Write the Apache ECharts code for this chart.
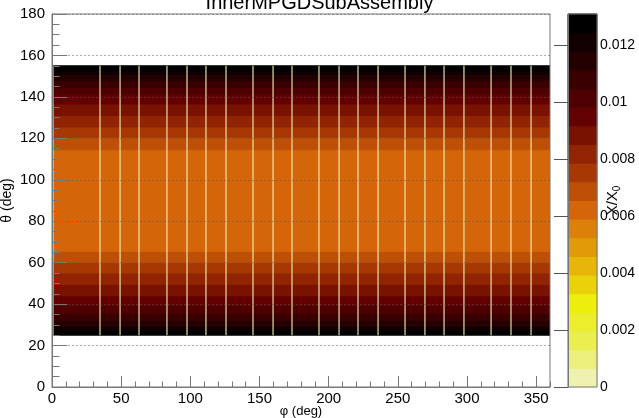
<!DOCTYPE html>
<html><head><meta charset="utf-8">
<script src="https://cdn.jsdelivr.net/npm/echarts@6/dist/echarts.min.js"></script>
<style>html,body{margin:0;padding:0;background:#fff}#c{width:639px;height:418px}</style>
</head><body><div id="c"></div>
<script>
// ---- data ----
const phiTicks   = [0, 50, 100, 150, 200, 250, 300, 350];
const thetaTicks = [0, 20, 40, 60, 80, 100, 120, 140, 160, 180];
const zTicks     = [0, 0.002, 0.004, 0.006, 0.008, 0.01, 0.012];
const zMax = 0.0131;
const nLevels = 20;
// theta bands (deg) and X/X0 value in each band
const thetaLow  = [25, 27.5, 29.5, 32, 35.5, 39.5, 44, 49.5, 55, 60, 65.5, 114.5, 120.5, 125.5, 131, 136.5, 141, 144.5, 148, 150.5, 152.5];
const thetaHigh = [27.5, 29.5, 32, 35.5, 39.5, 44, 49.5, 55, 60, 65.5, 114.5, 120.5, 125.5, 131, 136.5, 141, 144.5, 148, 150.5, 152.5, 155];
const bandValue = [0.0127, 0.0121, 0.0114, 0.0108, 0.0101, 0.0095, 0.0088, 0.0082, 0.0075, 0.0069, 0.0062, 0.0069, 0.0075, 0.0082, 0.0088, 0.0095, 0.0101, 0.0108, 0.0114, 0.0121, 0.0127];
// phi positions (deg) of thin low-material gaps
const gapPhi = [0.7, 34.7, 49.2, 62.9, 83.1, 97.6, 111.3, 125.8, 145.3, 159.8, 173.5, 193, 207.5, 221.2, 235.7, 255.2, 269.6, 283.4, 297.8, 317.4, 331.8, 346.3];
const gapValue = 0.0003;

// ---- palette (ROOT dark body radiator, inverted) ----
const stops = [0, 0.125, 0.25, 0.375, 0.5, 0.625, 0.75, 0.875, 1];
const R = [0, 45, 99, 156, 212, 230, 237, 234, 242];
const G = [0, 0, 0, 45, 101, 168, 238, 238, 243];
const B = [0, 1, 1, 3, 9, 8, 11, 95, 230];
function paletteAt(q) {
  q = Math.max(0, Math.min(1, q));
  let k = 0;
  while (k < stops.length - 2 && q > stops[k + 1]) k++;
  const t = (q - stops[k]) / (stops[k + 1] - stops[k]);
  const c = (A) => Math.round(A[k] + t * (A[k + 1] - A[k]));
  return 'rgb(' + c(R) + ',' + c(G) + ',' + c(B) + ')';
}
const levelColors = [];
for (let i = 0; i < nLevels; i++) levelColors.push(paletteAt(1 - (i + 0.99) / nLevels));
function colorFor(v) {
  let l = Math.floor(v / (zMax / nLevels));
  l = Math.max(0, Math.min(nLevels - 1, l));
  return levelColors[l];
}

const cells = [];
for (let i = 0; i < thetaLow.length; i++) cells.push([0, 360, thetaLow[i], thetaHigh[i], bandValue[i], 0]);
const gapW = 0.8;
for (const p of gapPhi) cells.push([p - gapW / 2, p + gapW / 2, thetaLow[0], thetaHigh[thetaHigh.length - 1], gapValue, 1]);

const levelData = [];
for (let i = 0; i < nLevels; i++) levelData.push([i * zMax / nLevels, (i + 1) * zMax / nLevels, i]);

const FONT = 'Liberation Sans';
const AX = '#777';
const chart = echarts.init(document.getElementById('c'), null, { renderer: 'canvas' });
chart.setOption({
  animation: false,
  backgroundColor: '#fff',
  textStyle: { fontFamily: FONT },
  title: { text: 'InnerMPGDSubAssembly', left: 'center', top: -12,
    textStyle: { fontFamily: FONT, fontSize: 20, fontWeight: 'normal', color: '#000' } },
  grid: [
    { left: 52, top: 14, width: 498, height: 373, show: true, borderColor: AX, borderWidth: 1, backgroundColor: 'transparent', z: 5, containLabel: false, outerBoundsMode: 'none' },
    { left: 568, top: 14, width: 29, height: 373, show: true, borderColor: AX, borderWidth: 1, backgroundColor: 'transparent', z: 5, containLabel: false, outerBoundsMode: 'none' }
  ],
  xAxis: [
    { type: 'value', gridIndex: 0, min: 0, max: 360, interval: 10, z: 10,
      axisLine: { show: true, lineStyle: { color: AX } },
      axisTick: { show: true, inside: true, length: 5.5, lineStyle: { color: AX } },
      axisLabel: { show: true, customValues: phiTicks, fontSize: 15, color: '#000', margin: 4, fontFamily: FONT },
      splitLine: { show: false },
      name: 'φ (deg)', nameLocation: 'middle', nameGap: 18, nameMoveOverlap: false,
      nameTextStyle: { fontSize: 13, color: '#000', fontFamily: FONT } },
    { type: 'value', gridIndex: 0, min: 0, max: 360, position: 'bottom', z: 10,
      axisLine: { show: false },
      axisTick: { show: true, inside: true, length: 11, customValues: phiTicks, lineStyle: { color: AX } },
      axisLabel: { show: false }, splitLine: { show: false } },
    { type: 'value', gridIndex: 1, min: 0, max: 1, show: false }
  ],
  yAxis: [
    { type: 'value', gridIndex: 0, min: 0, max: 180, interval: 5, z: 10,
      axisLine: { show: true, lineStyle: { color: AX } },
      axisTick: { show: true, inside: true, length: 7.5, lineStyle: { color: AX } },
      axisLabel: { show: true, customValues: thetaTicks, fontSize: 15, color: '#000', margin: 7, fontFamily: FONT },
      splitLine: { show: false },
      name: 'θ (deg)', nameLocation: 'middle', nameGap: 38, nameRotate: 90, nameMoveOverlap: false,
      nameTextStyle: { fontSize: 14, color: '#000', fontFamily: FONT } },
    { type: 'value', gridIndex: 0, min: 0, max: 180, interval: 20, position: 'left', z: 10,
      axisLine: { show: false },
      axisTick: { show: true, inside: true, length: 15, lineStyle: { color: AX } },
      axisLabel: { show: false },
      splitLine: { show: true, lineStyle: { color: 'rgba(90,90,90,0.5)', type: [2, 2], width: 1 } } },
    { type: 'value', gridIndex: 1, min: 0, max: zMax, position: 'right', z: 10,
      axisLine: { show: true, lineStyle: { color: AX } },
      axisTick: { show: true, inside: true, length: 14, customValues: zTicks, lineStyle: { color: '#555' } },
      axisLabel: { show: true, customValues: zTicks, fontSize: 14, color: '#000', margin: 3, fontFamily: FONT },
      splitLine: { show: false },
      name: 'X/X{s|0}', nameLocation: 'middle', nameGap: 6, nameRotate: 90, nameMoveOverlap: false,
      nameTextStyle: { fontSize: 15, color: '#000', fontFamily: FONT,
        rich: { s: { fontSize: 10, fontFamily: FONT, color: '#000', verticalAlign: 'bottom', padding: [9, 0, 0, 0] } } } }
  ],
  series: [
    { type: 'custom', xAxisIndex: 0, yAxisIndex: 0, data: cells, clip: true,
      encode: { x: [0, 1], y: [2, 3] },
      renderItem: function (params, api) {
        const p0 = api.coord([api.value(0), api.value(3)]);
        const p1 = api.coord([api.value(1), api.value(2)]);
        const col = colorFor(api.value(4));
        const isGap = api.value(5) === 1;
        return { type: 'rect', shape: { x: p0[0], y: p0[1], width: p1[0] - p0[0], height: p1[1] - p0[1] },
          style: isGap ? { fill: col } : { fill: col, stroke: col, lineWidth: 1 } };
      } },
    { type: 'custom', xAxisIndex: 2, yAxisIndex: 2, data: levelData,
      encode: { y: [0, 1] },
      renderItem: function (params, api) {
        const p0 = api.coord([0, api.value(1)]);
        const p1 = api.coord([1, api.value(0)]);
        const col = levelColors[api.value(2)];
        return { type: 'rect', shape: { x: p0[0], y: p0[1], width: p1[0] - p0[0], height: p1[1] - p0[1] },
          style: { fill: col, stroke: col, lineWidth: 1 } };
      } }
  ]
});
</script></body></html>
